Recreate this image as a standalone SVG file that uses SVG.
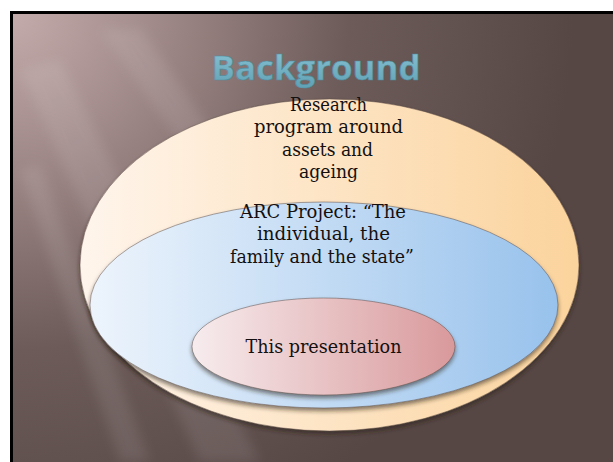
<svg xmlns="http://www.w3.org/2000/svg" width="613" height="462" viewBox="0 0 613 462">
<defs>
<radialGradient id="bg" cx="13" cy="14" r="560" gradientUnits="userSpaceOnUse">
<stop offset="0" stop-color="#c4abab"/>
<stop offset="0.3" stop-color="#9a8483"/>
<stop offset="0.6" stop-color="#6c5b59"/>
<stop offset="1" stop-color="#564745"/>
</radialGradient>
<linearGradient id="gOrange" x1="0" y1="0" x2="1" y2="0">
<stop offset="0" stop-color="#fff5ec"/>
<stop offset="1" stop-color="#fbd39c"/>
</linearGradient>
<linearGradient id="gBlue" x1="0" y1="0" x2="1" y2="0">
<stop offset="0" stop-color="#edf4fc"/>
<stop offset="1" stop-color="#98c2ec"/>
</linearGradient>
<linearGradient id="gPink" x1="0" y1="0" x2="1" y2="0">
<stop offset="0" stop-color="#f7ecee"/>
<stop offset="1" stop-color="#d9999b"/>
</linearGradient>
<linearGradient id="gTitle" x1="0" y1="0" x2="0" y2="1">
<stop offset="0" stop-color="#8cc6d6"/>
<stop offset="1" stop-color="#5f9fb3"/>
</linearGradient>
<filter id="shadow" x="-10%" y="-10%" width="120%" height="130%">
<feDropShadow dx="0" dy="3" stdDeviation="2" flood-color="#2a1e18" flood-opacity="0.55"/>
</filter>
<filter id="soft" x="-10%" y="-10%" width="120%" height="120%">
<feGaussianBlur stdDeviation="6"/>
</filter>
</defs>
<style>
.lbl{font-family:"DejaVu Serif","Liberation Serif",serif;font-size:18px;fill:#141010;text-anchor:middle}
.ell{stroke:#5a4a44;stroke-width:0.7;stroke-opacity:0.7}
.title{font-family:"Open Sans","Liberation Sans",sans-serif;font-weight:bold;font-size:34px;fill:url(#gTitle);stroke:#4e8c9e;stroke-width:0.6;text-anchor:middle}
</style>
<rect x="0" y="0" width="613" height="462" fill="#ffffff"/>
<rect x="10" y="11" width="603" height="451" fill="#000000"/>
<rect x="13" y="14" width="600" height="448" fill="url(#bg)"/>
<g opacity="0.09" filter="url(#soft)">
<polygon points="20,70 60,60 260,462 200,462" fill="#ffffff"/>
<polygon points="20,170 40,165 150,462 120,462" fill="#ffffff"/>
<polygon points="100,30 140,28 330,300 300,310" fill="#ffffff"/>
</g>
<g id="title">
<text class="title" x="316" y="80" textLength="209" lengthAdjust="spacingAndGlyphs">Background</text>
</g>
<g id="outer">
<ellipse class="ell" cx="329.5" cy="265" rx="249.5" ry="166" fill="url(#gOrange)" filter="url(#shadow)"/>
<text class="lbl" x="328.5" y="111" textLength="77" lengthAdjust="spacingAndGlyphs">Research</text>
<text class="lbl" x="328.5" y="133" textLength="149" lengthAdjust="spacingAndGlyphs">program around</text>
<text class="lbl" x="327.5" y="156" textLength="91" lengthAdjust="spacingAndGlyphs">assets and</text>
<text class="lbl" x="328.5" y="178" textLength="59" lengthAdjust="spacingAndGlyphs">ageing</text>
</g>
<g id="middle">
<ellipse class="ell" cx="324" cy="305" rx="234" ry="103" fill="url(#gBlue)" filter="url(#shadow)"/>
<text class="lbl" x="323" y="218" textLength="166" lengthAdjust="spacingAndGlyphs">ARC Project: “The</text>
<text class="lbl" x="323.5" y="240" textLength="133" lengthAdjust="spacingAndGlyphs">individual, the</text>
<text class="lbl" x="322" y="263" textLength="184" lengthAdjust="spacingAndGlyphs">family and the state”</text>
</g>
<g id="inner">
<ellipse class="ell" cx="323.5" cy="346.5" rx="131.5" ry="48.5" fill="url(#gPink)" filter="url(#shadow)"/>
<text class="lbl" x="323.5" y="353" textLength="156" lengthAdjust="spacingAndGlyphs">This presentation</text>
</g>
<g id="connectors"/>
</svg>
